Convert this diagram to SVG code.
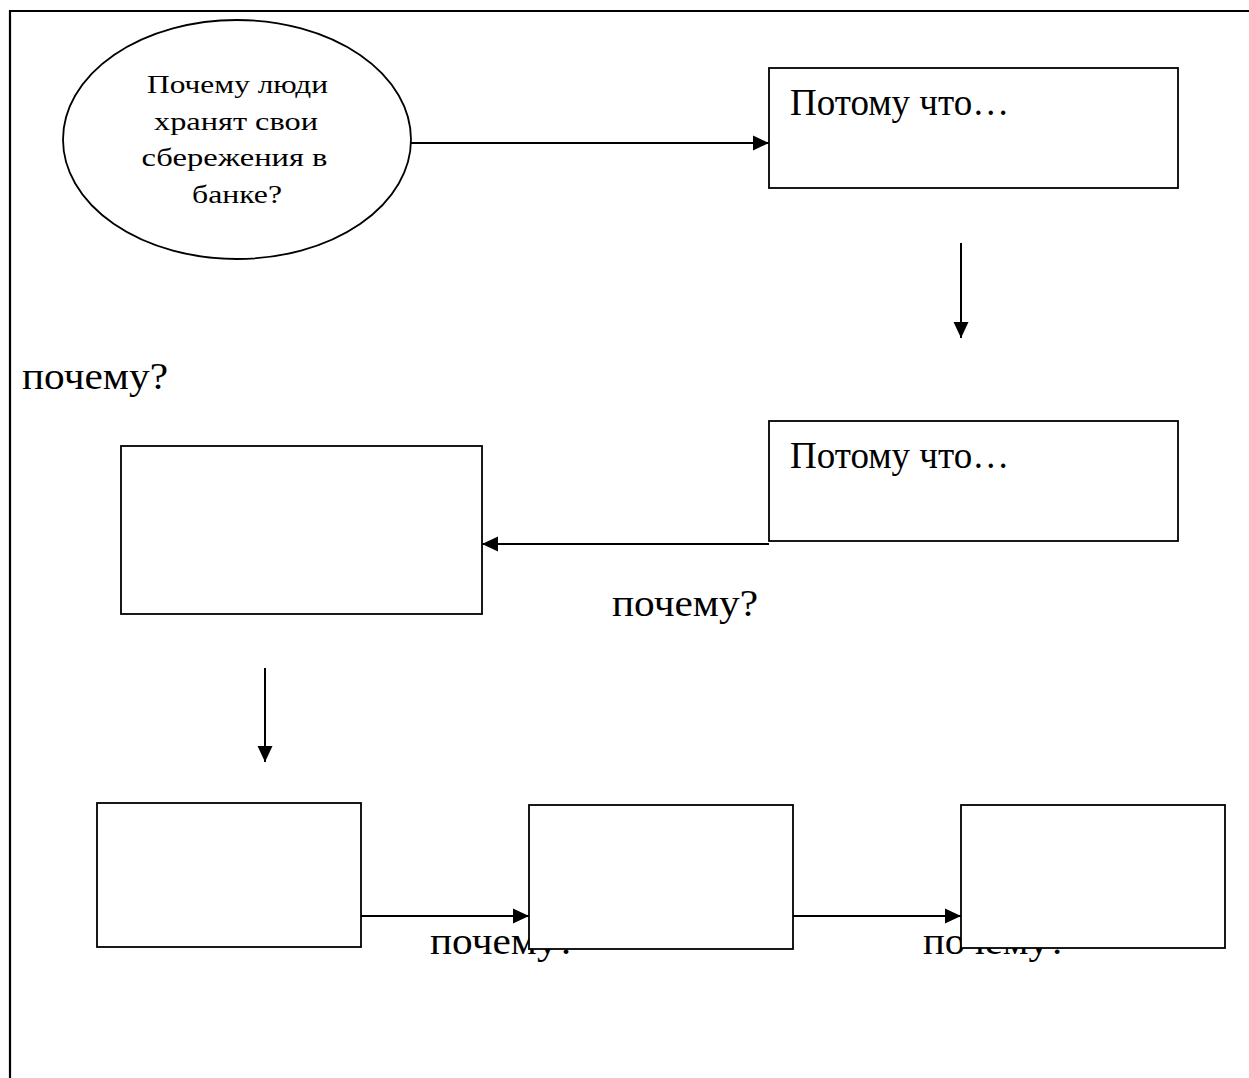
<svg xmlns="http://www.w3.org/2000/svg" width="1249" height="1078" viewBox="0 0 1249 1078">
<style>
.frame{fill:none;stroke:#000;stroke-width:2.2}
.node{fill:#fff;stroke:#000;stroke-width:1.8}
.conn{fill:none;stroke:#000;stroke-width:2}
.t{font-family:"Liberation Serif","Times New Roman",serif;fill:#000}
.q{font-size:26px;text-anchor:middle}
.big{font-size:37px}
.why{font-size:38px}
</style>
<defs>
<marker id="ah" viewBox="0 0 16 16" refX="16" refY="8" markerWidth="16" markerHeight="16" markerUnits="userSpaceOnUse" orient="auto">
<path d="M0,0.5 L16,8 L0,15.5 z" fill="#000"/>
</marker>
</defs>
<rect width="1249" height="1078" fill="#fff"/>
<path class="frame" d="M10,1078 V11 H1249"/>
<g id="labels">
<text class="t why" x="22" y="389" textLength="146" lengthAdjust="spacingAndGlyphs">почему?</text>
<text class="t why" x="612" y="616" textLength="146" lengthAdjust="spacingAndGlyphs">почему?</text>
<text class="t why" x="430" y="954" textLength="146" lengthAdjust="spacingAndGlyphs">почему?</text>
<text class="t why" x="923" y="954" textLength="144" lengthAdjust="spacingAndGlyphs">почему?</text>
</g>
<g id="connectors">
<line class="conn" x1="411" y1="143" x2="769" y2="143" marker-end="url(#ah)"/>
<line class="conn" x1="961" y1="243" x2="961" y2="338" marker-end="url(#ah)"/>
<line class="conn" x1="769" y1="544" x2="482" y2="544" marker-end="url(#ah)"/>
<line class="conn" x1="265" y1="668" x2="265" y2="762" marker-end="url(#ah)"/>
<line class="conn" x1="361" y1="916" x2="529" y2="916" marker-end="url(#ah)"/>
<line class="conn" x1="793" y1="916" x2="961" y2="916" marker-end="url(#ah)"/>
</g>
<g id="question">
<ellipse class="node" cx="237" cy="139.5" rx="174" ry="119.5"/>
<text class="t q" x="237.5" y="93" textLength="181" lengthAdjust="spacingAndGlyphs">Почему люди</text>
<text class="t q" x="236" y="130" textLength="164" lengthAdjust="spacingAndGlyphs">хранят свои</text>
<text class="t q" x="234.5" y="166" textLength="186" lengthAdjust="spacingAndGlyphs">сбережения в</text>
<text class="t q" x="237" y="203" textLength="90" lengthAdjust="spacingAndGlyphs">банке?</text>
</g>
<g id="because1">
<rect class="node" x="769" y="68" width="409" height="120"/>
<text class="t big" x="790" y="115">Потому что…</text>
</g>
<g id="because2">
<rect class="node" x="769" y="421" width="409" height="120"/>
<text class="t big" x="790" y="468">Потому что…</text>
</g>
<g id="box3">
<rect class="node" x="121" y="446" width="361" height="168"/>
</g>
<g id="box4">
<rect class="node" x="97" y="803" width="264" height="144"/>
</g>
<g id="box5">
<rect class="node" x="529" y="805" width="264" height="144"/>
</g>
<g id="box6">
<rect class="node" x="961" y="805" width="264" height="143"/>
</g>
</svg>
